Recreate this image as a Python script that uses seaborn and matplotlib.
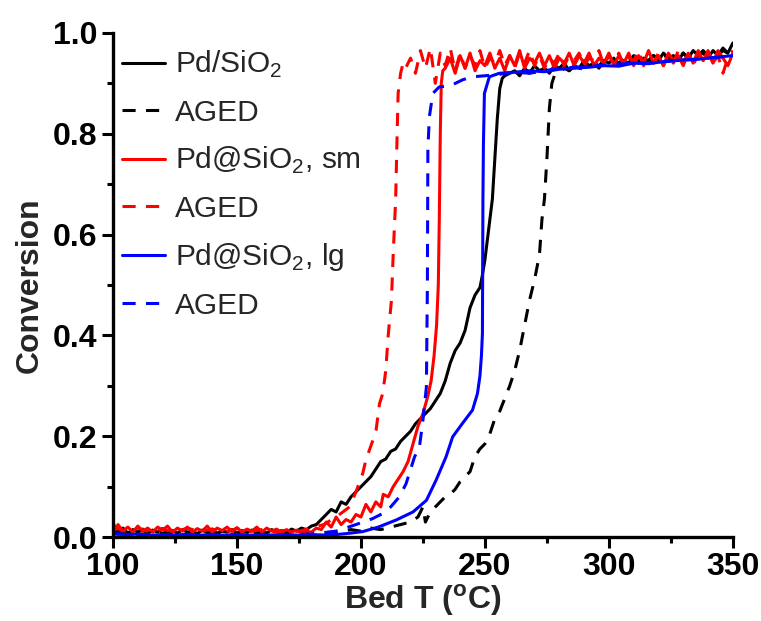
import matplotlib
matplotlib.use("Agg")
import matplotlib.pyplot as plt
import seaborn as sns
import pandas as pd
from matplotlib.ticker import MultipleLocator

# ---------------- data (Bed T in degC, conversion) ----------------
pd_sio2 = [
    (100, 0.020), (102, 0.012), (104, 0.018), (106, 0.008), (108, 0.015), (110, 0.010),
    (112, 0.016), (114, 0.007), (116, 0.014), (118, 0.010), (120, 0.017), (122, 0.009),
    (124, 0.013), (126, 0.008), (128, 0.015), (130, 0.010), (132, 0.012), (134, 0.007),
    (136, 0.014), (138, 0.009), (140, 0.016), (142, 0.008), (144, 0.012), (146, 0.010),
    (148, 0.015), (150, 0.008), (152, 0.013), (154, 0.009), (156, 0.014), (158, 0.010),
    (160, 0.012), (162, 0.008), (164, 0.015), (166, 0.010), (168, 0.013), (170, 0.009),
    (172, 0.016), (174, 0.012), (176, 0.018), (178, 0.015), (180, 0.022), (182, 0.025),
    (184, 0.035), (186, 0.045), (188, 0.055), (190, 0.050), (192, 0.070), (194, 0.065),
    (196, 0.080), (198, 0.090), (200, 0.100), (202, 0.110), (204, 0.120), (206, 0.135),
    (208, 0.150), (210, 0.155), (212, 0.170), (214, 0.175), (216, 0.190), (218, 0.200),
    (220, 0.210), (222, 0.225), (224, 0.235), (226, 0.245), (228, 0.255), (230, 0.270),
    (232, 0.285), (234, 0.310), (236, 0.345), (238, 0.370), (240, 0.385), (242, 0.410),
    (244, 0.455), (246, 0.480), (248, 0.495), (249, 0.520), (250, 0.550), (251, 0.590),
    (252, 0.630), (253, 0.670), (254, 0.750), (255, 0.830), (256, 0.890), (257, 0.910),
    (258, 0.915), (260, 0.920), (262, 0.925), (264, 0.915), (266, 0.930), (268, 0.920),
    (270, 0.935), (272, 0.925), (274, 0.930), (276, 0.920), (278, 0.935), (280, 0.930),
    (282, 0.940), (284, 0.925), (286, 0.935), (288, 0.930), (290, 0.945), (292, 0.935),
    (294, 0.940), (296, 0.930), (298, 0.945), (300, 0.940), (302, 0.950), (304, 0.935),
    (306, 0.945), (308, 0.940), (310, 0.955), (312, 0.940), (314, 0.950), (316, 0.945),
    (318, 0.955), (320, 0.945), (322, 0.960), (324, 0.950), (326, 0.955), (328, 0.945),
    (330, 0.960), (332, 0.950), (334, 0.965), (336, 0.955), (338, 0.960), (340, 0.950),
    (342, 0.965), (344, 0.955), (346, 0.970), (348, 0.960), (350, 0.980),
]

pd_sio2_aged = [
    (100, 0.010), (110, 0.006), (120, 0.008), (130, 0.005), (140, 0.007), (150, 0.005),
    (160, 0.008), (170, 0.006), (180, 0.008), (190, 0.010), (196, 0.015), (200, 0.012),
    (204, 0.018), (208, 0.015), (212, 0.020), (216, 0.025), (220, 0.030), (223, 0.040),
    (225, 0.060), (226, 0.030), (228, 0.050), (230, 0.060), (232, 0.070), (234, 0.080),
    (236, 0.085), (238, 0.095), (240, 0.110), (242, 0.120), (244, 0.130), (246, 0.160),
    (248, 0.175), (250, 0.185), (252, 0.205), (254, 0.235), (256, 0.250), (258, 0.275),
    (260, 0.300), (262, 0.330), (264, 0.370), (266, 0.420), (268, 0.470), (270, 0.510),
    (272, 0.560), (273, 0.630), (274, 0.670), (275, 0.750), (276, 0.850), (277, 0.900),
    (278, 0.915), (280, 0.920), (282, 0.930), (284, 0.925), (286, 0.935), (288, 0.925),
    (290, 0.940), (292, 0.930), (294, 0.940), (296, 0.935), (298, 0.945), (300, 0.935),
    (302, 0.945), (304, 0.940), (306, 0.950), (308, 0.940), (310, 0.950), (312, 0.945),
    (314, 0.955), (316, 0.945), (318, 0.955), (320, 0.950), (322, 0.960), (324, 0.945),
    (326, 0.955), (328, 0.950), (330, 0.960), (332, 0.950), (334, 0.960), (336, 0.955),
    (338, 0.965), (340, 0.955), (342, 0.960), (344, 0.955), (346, 0.965), (348, 0.960),
    (350, 0.970),
]

pd_sm = [
    (100, 0.030), (101, 0.015), (102, 0.025), (104, 0.012), (106, 0.020), (108, 0.010),
    (110, 0.022), (112, 0.012), (114, 0.018), (116, 0.010), (118, 0.020), (120, 0.014),
    (122, 0.022), (124, 0.010), (126, 0.018), (128, 0.012), (130, 0.020), (132, 0.010),
    (134, 0.017), (136, 0.012), (138, 0.022), (140, 0.010), (142, 0.018), (144, 0.013),
    (146, 0.020), (148, 0.011), (150, 0.019), (152, 0.010), (154, 0.016), (156, 0.012),
    (158, 0.020), (160, 0.010), (162, 0.018), (164, 0.012), (166, 0.016), (168, 0.009),
    (170, 0.015), (172, 0.010), (174, 0.014), (176, 0.008), (178, 0.012), (180, 0.010),
    (182, 0.018), (184, 0.015), (186, 0.030), (188, 0.020), (190, 0.040), (192, 0.025),
    (194, 0.035), (196, 0.030), (198, 0.045), (200, 0.040), (202, 0.065), (204, 0.050),
    (206, 0.070), (208, 0.060), (209, 0.085), (211, 0.080), (213, 0.100), (215, 0.115),
    (217, 0.130), (219, 0.150), (221, 0.185), (223, 0.220), (225, 0.245), (227, 0.280),
    (228.3, 0.310), (229.5, 0.360), (230.5, 0.420), (231.2, 0.500), (231.6, 0.630),
    (232, 0.800), (232.4, 0.900), (233, 0.925), (234, 0.930), (236, 0.950), (238, 0.920),
    (240, 0.955), (242, 0.930), (244, 0.960), (246, 0.925), (248, 0.945), (250, 0.935),
    (252, 0.960), (254, 0.930), (256, 0.950), (258, 0.925), (260, 0.955), (262, 0.935),
    (264, 0.965), (266, 0.930), (268, 0.950), (270, 0.940), (272, 0.960), (274, 0.935),
    (276, 0.955), (278, 0.930), (280, 0.950), (282, 0.940), (284, 0.960), (286, 0.935),
    (288, 0.955), (290, 0.940), (292, 0.960), (294, 0.935), (296, 0.950), (298, 0.940),
    (300, 0.960), (302, 0.935), (304, 0.955), (306, 0.940), (308, 0.960), (310, 0.935),
    (312, 0.955), (314, 0.940), (316, 0.965), (318, 0.940), (320, 0.955), (322, 0.935),
    (324, 0.960), (326, 0.945), (328, 0.955), (330, 0.935), (332, 0.960), (334, 0.940),
    (336, 0.965), (338, 0.945), (340, 0.960), (342, 0.940), (344, 0.965), (346, 0.950),
    (348, 0.935), (350, 0.960),
]

pd_sm_aged = [
    (100, 0.020), (105, 0.012), (110, 0.018), (115, 0.010), (120, 0.016), (125, 0.010),
    (130, 0.018), (135, 0.011), (140, 0.016), (145, 0.010), (150, 0.017), (155, 0.011),
    (160, 0.015), (165, 0.010), (170, 0.014), (175, 0.012), (180, 0.018), (185, 0.025),
    (190, 0.040), (195.4, 0.060), (198, 0.090), (200.7, 0.126), (202, 0.153),
    (204.8, 0.192), (206.1, 0.212), (207.5, 0.265), (208.8, 0.285), (210, 0.330),
    (211, 0.400), (212.3, 0.470), (213, 0.560), (214, 0.670), (214.6, 0.800),
    (215, 0.880), (216, 0.920), (217, 0.940), (218, 0.930), (220, 0.950), (222, 0.920),
    (224, 0.965), (226, 0.930), (228, 0.970), (230, 0.900), (232, 0.960), (234, 0.935),
    (236, 0.970), (238, 0.925), (240, 0.960), (242, 0.930), (244, 0.955), (246, 0.935),
    (248, 0.965), (250, 0.930), (252, 0.950), (254, 0.940), (256, 0.965), (258, 0.935),
    (260, 0.955), (262, 0.930), (264, 0.960), (266, 0.940), (268, 0.965), (270, 0.935),
    (272, 0.955), (274, 0.930), (276, 0.950), (278, 0.940), (280, 0.960), (282, 0.935),
    (284, 0.955), (286, 0.945), (288, 0.960), (290, 0.935), (292, 0.950), (294, 0.945),
    (296, 0.965), (298, 0.935), (300, 0.955), (302, 0.940), (304, 0.960), (306, 0.935),
    (308, 0.950), (310, 0.945), (312, 0.965), (314, 0.935), (316, 0.950), (318, 0.940),
    (320, 0.960), (322, 0.935), (324, 0.955), (326, 0.940), (328, 0.965), (330, 0.945),
    (332, 0.955), (334, 0.935), (336, 0.960), (338, 0.945), (340, 0.965), (342, 0.940),
    (344, 0.955), (346, 0.920), (348, 0.950), (350, 0.965),
]

pd_lg = [
    (100, 0.008), (105, 0.005), (110, 0.006), (115, 0.004), (120, 0.005), (125, 0.004),
    (130, 0.006), (135, 0.004), (140, 0.005), (145, 0.004), (150, 0.005), (155, 0.004),
    (160, 0.005), (165, 0.004), (170, 0.005), (175, 0.004), (180, 0.005), (187.4, 0.004),
    (194, 0.007), (200.7, 0.011), (207, 0.020), (214.2, 0.034), (221, 0.050),
    (226.4, 0.073), (230.3, 0.113), (234.3, 0.159), (237, 0.199), (241, 0.226),
    (245, 0.252), (247, 0.285), (248, 0.320), (248.6, 0.360), (249, 0.404),
    (249.1, 0.536), (249.2, 0.669), (249.4, 0.780), (249.8, 0.880), (251.8, 0.913),
    (255.8, 0.920), (262, 0.922), (268, 0.925), (274, 0.923), (280, 0.928), (286, 0.930),
    (292, 0.932), (298, 0.935), (304, 0.934), (310, 0.940), (316, 0.939), (322, 0.943),
    (328, 0.946), (334, 0.947), (340, 0.950), (346, 0.953), (350, 0.955),
]

pd_lg_aged = [
    (100, 0.006), (110, 0.005), (120, 0.004), (130, 0.005), (140, 0.004), (150, 0.005),
    (160, 0.004), (170, 0.005), (180, 0.006), (190, 0.012), (198, 0.025), (204.8, 0.037),
    (208.8, 0.047), (212, 0.060), (215.5, 0.080), (218.2, 0.106), (221.6, 0.159),
    (223.6, 0.179), (225, 0.232), (226.4, 0.298), (226.8, 0.500), (227, 0.770),
    (227.6, 0.834), (229, 0.880), (231.6, 0.893), (236, 0.895), (241, 0.907),
    (245, 0.913), (250, 0.915), (256, 0.918), (262, 0.922), (268, 0.920), (274, 0.925),
    (280, 0.930), (290, 0.933), (300, 0.937), (310, 0.940), (320, 0.942), (330, 0.946),
    (340, 0.950), (350, 0.955),
]

labels = ["Pd/SiO$_\\mathregular{2}$", "AGED", "Pd@SiO$_\\mathregular{2}$, sm", "AGED",
          "Pd@SiO$_\\mathregular{2}$, lg", "AGED"]
series = [pd_sio2, pd_sio2_aged, pd_sm, pd_sm_aged, pd_lg, pd_lg_aged]
colors = ["black", "black", "#ff0000", "#ff0000", "#0000ff", "#0000ff"]
dashed = [False, True, False, True, False, True]

x_ticks = [100, 150, 200, 250, 300, 350]
y_ticks = [0.0, 0.2, 0.4, 0.6, 0.8, 1.0]

# ---------------- plotting ----------------
sns.set_theme(style="ticks")
plt.rcParams["font.family"] = ["Liberation Sans", "DejaVu Sans"]
plt.rcParams["mathtext.fontset"] = "custom"
plt.rcParams["mathtext.rm"] = "Liberation Sans"
plt.rcParams["mathtext.bf"] = "Liberation Sans:bold"

fig = plt.figure(figsize=(7.61, 6.21), dpi=100)
ax = fig.add_axes([0.1485, 0.135, 0.8145, 0.812])

for data, lab, col, ds in zip(series, labels, colors, dashed):
    df = pd.DataFrame(data, columns=["T", "conv"])
    sns.lineplot(data=df, x="T", y="conv", ax=ax, color=col, label=lab,
                 sort=False, estimator=None, linewidth=2.2)
    if ds:
        ax.lines[-1].set_dashes((4.3, 3.4))

ax.set_xlim(100, 350)
ax.set_ylim(0, 1.0)
ax.set_xticks(x_ticks)
ax.set_yticks(y_ticks)
ax.xaxis.set_minor_locator(MultipleLocator(25))
ax.yaxis.set_minor_locator(MultipleLocator(0.1))

tick_font = {"family": ["Liberation Sans", "DejaVu Sans"], "weight": "bold", "size": 23}
ax.set_xticklabels([f"{v}" for v in x_ticks], fontdict=tick_font)
ax.set_yticklabels([f"{v:.1f}" for v in y_ticks], fontdict=tick_font)

ax.tick_params(which="major", direction="out", length=8, width=2.2, pad=3, colors="black")
ax.tick_params(which="minor", direction="out", length=4.5, width=2.2, colors="black")

for s in ["top", "right"]:
    ax.spines[s].set_visible(False)
for s in ["left", "bottom"]:
    ax.spines[s].set_linewidth(2.4)
    ax.spines[s].set_color("black")

lab_font = {"family": ["Liberation Sans", "DejaVu Sans"], "weight": "bold", "size": 23}
ax.set_xlabel("Bed T ($^\\mathregular{o}$C)", fontdict=lab_font, labelpad=0)
ax.set_ylabel("Conversion", fontdict=lab_font, labelpad=6)

leg = ax.legend(loc="upper left", frameon=False, fontsize=21.5, handlelength=1.45,
                handletextpad=0.35, labelspacing=0.62, borderaxespad=0.0,
                borderpad=0.0, bbox_to_anchor=(0.014, 0.968))

fig.savefig("out.png", dpi=100, facecolor="white")
